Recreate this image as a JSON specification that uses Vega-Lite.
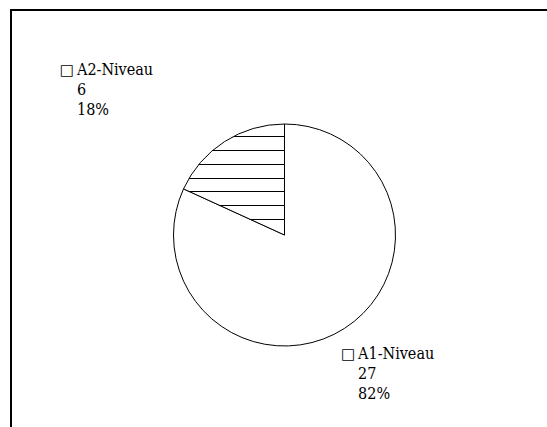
{
  "$schema": "https://vega.github.io/schema/vega-lite/v6.json",
  "width": 547,
  "height": 450,
  "autosize": "none",
  "padding": {"left": 11, "top": 10, "right": 0, "bottom": 0},
  "background": "white",
  "view": {"stroke": "black", "strokeWidth": 2, "fill": "white"},
  "config": {
    "view": {"stroke": "black", "strokeWidth": 2}
  },
  "data": {
    "values": [
      {"cat": "A1-Niveau", "value": 27, "pct": "82%"},
      {"cat": "A2-Niveau", "value": 6, "pct": "18%"}
    ]
  },
  "layer": [
    {
      "mark": {"type": "arc", "radius": 111, "stroke": "black", "strokeWidth": 1},
      "encoding": {
        "theta": {"field": "value", "type": "quantitative", "stack": true},
        "order": {"field": "cat", "type": "ordinal"},
        "detail": {"field": "cat", "type": "nominal"},
        "fill": {
          "condition": {
            "test": "datum.cat === 'A2-Niveau'",
            "value": {
              "gradient": "linear",
              "x1": 0, "y1": 0, "x2": 0, "y2": 1,
              "stops": [
                {"offset": 0, "color": "white"},
                {"offset": 0.1125, "color": "white"}, {"offset": 0.1125, "color": "black"}, {"offset": 0.1215, "color": "black"}, {"offset": 0.1215, "color": "white"},
                {"offset": 0.236, "color": "white"}, {"offset": 0.236, "color": "black"}, {"offset": 0.245, "color": "black"}, {"offset": 0.245, "color": "white"},
                {"offset": 0.3595, "color": "white"}, {"offset": 0.3595, "color": "black"}, {"offset": 0.3685, "color": "black"}, {"offset": 0.3685, "color": "white"},
                {"offset": 0.483, "color": "white"}, {"offset": 0.483, "color": "black"}, {"offset": 0.492, "color": "black"}, {"offset": 0.492, "color": "white"},
                {"offset": 0.6065, "color": "white"}, {"offset": 0.6065, "color": "black"}, {"offset": 0.6155, "color": "black"}, {"offset": 0.6155, "color": "white"},
                {"offset": 0.73, "color": "white"}, {"offset": 0.73, "color": "black"}, {"offset": 0.739, "color": "black"}, {"offset": 0.739, "color": "white"},
                {"offset": 0.8535, "color": "white"}, {"offset": 0.8535, "color": "black"}, {"offset": 0.8625, "color": "black"}, {"offset": 0.8625, "color": "white"},
                {"offset": 1, "color": "white"}
              ]
            }
          },
          "value": "white"
        }
      }
    },
    {
      "encoding": {
        "theta": {"field": "value", "type": "quantitative", "stack": true, "scale": {"domain": [0, 33], "range": [0.3004, 5.892]}},
        "radius": {"field": "value", "type": "quantitative", "scale": {"type": "linear", "domain": [6, 27], "range": [265, 140], "zero": false}},
        "order": {"field": "cat", "type": "ordinal"},
        "detail": {"field": "cat", "type": "nominal"}
      },
      "layer": [
        {"mark": {"type": "text", "align": "left", "baseline": "middle", "font": "DejaVu Serif Condensed, DejaVu Serif", "fontSize": 16, "color": "black"}, "encoding": {"text": {"field": "cat", "type": "nominal"}}},
        {"mark": {"type": "text", "align": "left", "baseline": "middle", "dy": 20, "font": "DejaVu Serif Condensed, DejaVu Serif", "fontSize": 16, "color": "black"}, "encoding": {"text": {"field": "value", "type": "quantitative"}}},
        {"mark": {"type": "text", "align": "left", "baseline": "middle", "dy": 40, "font": "DejaVu Serif Condensed, DejaVu Serif", "fontSize": 16, "color": "black"}, "encoding": {"text": {"field": "pct", "type": "nominal"}}},
        {"mark": {"type": "text", "align": "right", "baseline": "middle", "dx": -3, "font": "DejaVu Sans", "fontSize": 15, "color": "black"}, "encoding": {"text": {"value": "□"}}}
      ]
    }
  ],
  "resolve": {"scale": {"theta": "independent", "radius": "independent"}}
}
